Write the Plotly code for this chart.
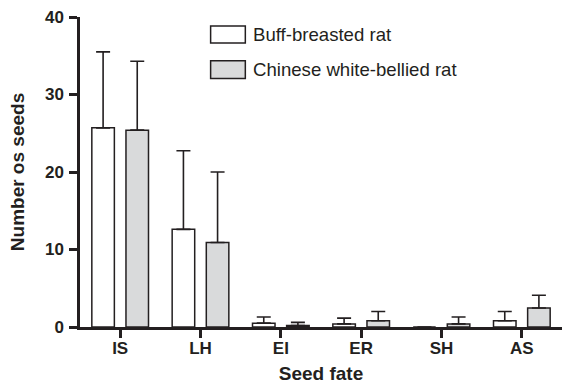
import plotly.graph_objects as go

categories = ["IS", "LH", "EI", "ER", "SH", "AS"]
series_names = ["Buff-breasted rat", "Chinese white-bellied rat"]
buff_mean = [25.7, 12.6, 0.5, 0.4, 0.0, 0.8]
buff_err = [9.8, 10.15, 0.8, 0.75, 0.0, 1.2]
chinese_mean = [25.4, 10.9, 0.2, 0.8, 0.4, 2.45]
chinese_err = [8.9, 9.1, 0.4, 1.2, 0.9, 1.65]
y_ticks = [0, 10, 20, 30, 40]

INK = "#231f20"
FONT = "Liberation Sans, Arial, sans-serif"
fills = ["#ffffff", "#d9dadb"]

fig = go.Figure()
for name, vals, errs, fill in [
    (series_names[0], buff_mean, buff_err, fills[0]),
    (series_names[1], chinese_mean, chinese_err, fills[1]),
]:
    fig.add_trace(go.Bar(
        x=categories, y=vals, name=name,
        marker=dict(color=fill, line=dict(color=INK, width=1.5)),
        error_y=dict(type="data", symmetric=False, array=errs,
                     arrayminus=[0] * len(errs), color=INK,
                     thickness=1.6, width=7),
        showlegend=False,
    ))

# custom legend (boxes + labels)
legend_items = [(0.971, 0.916, fills[0], series_names[0]),
                (0.859, 0.802, fills[1], series_names[1])]
for y1, y0, fill, label in legend_items:
    fig.add_shape(type="rect", xref="paper", yref="paper",
                  x0=0.271, x1=0.343, y0=y0, y1=y1,
                  fillcolor=fill, line=dict(color=INK, width=1.5))
    fig.add_annotation(xref="paper", yref="paper", x=0.356, y=(y0 + y1) / 2,
                       text=label, showarrow=False, xanchor="left",
                       yanchor="middle", borderpad=0,
                       font=dict(family=FONT, size=18.6, color=INK))

fig.update_layout(
    width=563, height=390,
    margin=dict(l=80, r=1, t=17, b=63),
    plot_bgcolor="white", paper_bgcolor="white",
    barmode="group", bargap=0.15, bargroupgap=0.34,
    font=dict(family=FONT, color=INK),
)
fig.update_xaxes(
    range=[-0.5, 5.5], showline=True, linecolor=INK, linewidth=2.5,
    ticks="outside", ticklen=8, tickwidth=2.5, tickcolor=INK,
    tickfont=dict(family=FONT, size=17, color=INK, weight="bold"),
    ticklabelstandoff=-4,
    title=dict(text="<b>Seed fate</b>", font=dict(family=FONT, size=19, color=INK),
               standoff=10),
    showgrid=False, zeroline=False, automargin=False,
)
fig.update_yaxes(
    range=[0, 40], tickvals=y_ticks, showline=True, linecolor=INK, linewidth=2.5,
    ticks="outside", ticklen=8, tickwidth=2.5, tickcolor=INK,
    tickfont=dict(family=FONT, size=17, color=INK, weight="bold"),
    ticklabelstandoff=2,
    title=dict(text="<b>Number os seeds</b>", font=dict(family=FONT, size=19, color=INK),
               standoff=16),
    showgrid=False, zeroline=False, automargin=False,
)

fig.write_html("out.html", config={"displayModeBar": False},
               post_script="document.body.style.margin='0';")
